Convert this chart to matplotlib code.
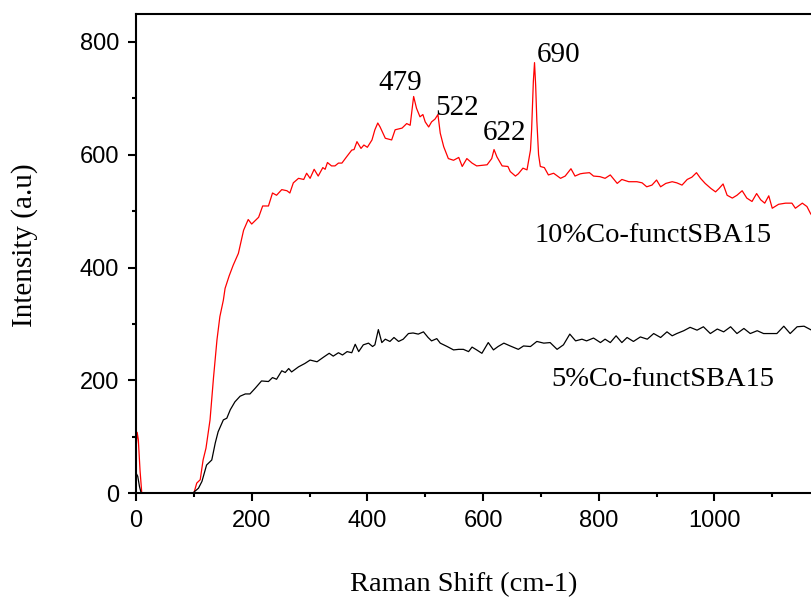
import numpy as np
import matplotlib
matplotlib.use("Agg")
import matplotlib.pyplot as plt
from matplotlib.ticker import MultipleLocator

# Raman spectra (shift in cm-1, intensity in a.u.)
co10_shift = [0, 2, 4, 7, 10, 20, 40, 60, 80, 100, 105, 111, 116, 121, 128, 134,
              140, 145, 151, 154, 161, 168, 177, 186, 194, 200, 212, 219, 229, 236,
              243, 252, 261, 266, 272, 281, 290, 295, 301, 308, 315, 323, 327, 331,
              338, 344, 350, 356, 364, 373, 377, 382, 389, 394, 400, 408, 413, 418,
              422, 431, 442, 448, 460, 468, 474, 480, 485, 491, 496, 500, 506, 511,
              517, 522, 526, 532, 540, 549, 558, 564, 572, 581, 589, 607, 615, 619,
              624, 633, 643, 647, 656, 661, 669, 676, 682, 684, 687, 689, 691, 693,
              696, 699, 706, 713, 722, 734, 742, 752, 759, 768, 774, 784, 791, 802,
              811, 820, 832, 840, 852, 866, 875, 883, 892, 900, 907, 916, 927, 935,
              944, 953, 961, 969, 976, 984, 994, 1002, 1008, 1015, 1022, 1031, 1039,
              1048, 1056, 1065, 1073, 1080, 1087, 1094, 1100, 1111, 1123, 1134, 1140,
              1152, 1160, 1166, 1170]
co10_int = [77, 108, 95, 40, 0, 0, 0, 0, 0, 0, 18, 24, 59, 80, 130, 205,
            272, 313, 342, 363, 385, 404, 425, 466, 485, 477, 489, 509, 509, 532,
            528, 538, 536, 532, 550, 558, 556, 567, 558, 574, 562, 577, 574, 586,
            580, 580, 585, 585, 596, 608, 609, 623, 611, 617, 613, 626, 644, 656,
            649, 629, 626, 644, 647, 655, 652, 703, 682, 667, 671, 658, 649, 658,
            663, 671, 638, 614, 593, 590, 595, 579, 593, 585, 580, 582, 593, 609,
            596, 580, 579, 570, 562, 566, 576, 573, 608, 645, 730, 763, 722, 660,
            600, 579, 577, 564, 567, 558, 562, 575, 562, 566, 567, 568, 562, 561,
            558, 564, 549, 556, 552, 552, 550, 543, 546, 555, 543, 549, 552, 550,
            546, 556, 560, 568, 558, 549, 540, 534, 540, 548, 528, 523, 528,
            536, 523, 517, 531, 520, 514, 527, 505, 512, 514, 514, 505,
            514, 508, 496, 490]

co5_shift = [0, 3, 6, 9, 20, 50, 80, 99, 108, 114, 122, 131, 137, 142, 151, 157,
             163, 171, 180, 189, 197, 206, 217, 229, 236, 243, 252, 258, 264, 269,
             281, 292, 301, 313, 324, 334, 341, 350, 357, 365, 373, 379, 385, 393,
             402, 409, 413, 419, 425, 431, 439, 446, 454, 462, 471, 479, 488, 497,
             505, 511, 520, 526, 538, 549, 558, 566, 575, 581, 589, 598, 609, 618,
             626, 636, 647, 661, 670, 682, 693, 705, 716, 728, 739, 750, 760, 771,
             779, 791, 803, 811, 820, 830, 840, 849, 860, 872, 884, 895, 907, 918,
             927, 935, 947, 958, 970, 981, 993, 1005, 1016, 1028, 1039, 1051, 1062,
             1074, 1085, 1097, 1108, 1120, 1131, 1143, 1155, 1168]
co5_int = [36, 30, 12, 0, 0, 0, 0, 1, 9, 21, 50, 59, 89, 109, 130, 133,
           148, 162, 172, 176, 176, 186, 199, 198, 205, 202, 217, 214, 221, 215,
           224, 230, 236, 233, 241, 248, 243, 249, 245, 251, 249, 264, 251, 263,
           266, 260, 263, 290, 267, 273, 269, 276, 269, 273, 283, 284, 282, 286,
           276, 270, 274, 266, 260, 254, 255, 255, 251, 259, 254, 248, 267, 254,
           260, 266, 261, 255, 261, 260, 269, 266, 267, 255, 263, 282, 270, 273,
           270, 275, 267, 273, 267, 279, 267, 276, 269, 277, 273, 283, 276, 286,
           279, 283, 288, 294, 289, 295, 283, 291, 286, 295, 283, 292, 283,
           288, 283, 283, 283, 296, 283, 295, 296, 289]

peak_labels = ["479", "522", "622", "690"]
peak_label_pos = [(419, 714), (517, 670), (600, 626), (692, 764)]

serif = ["Liberation Serif", "DejaVu Serif"]
sans = ["Liberation Sans", "DejaVu Sans"]

fig = plt.figure(figsize=(8.11, 5.99), dpi=100)
ax = fig.add_axes([0.1677, 0.1765, 0.838, 0.800])

ax.plot(co10_shift, co10_int, color="red", linewidth=0.9)
ax.plot(co5_shift, co5_int, color="black", linewidth=0.9)

for txt, (px, py) in zip(peak_labels, peak_label_pos):
    ax.text(px, py, txt, fontsize=21, family=serif, ha="left", va="baseline")

ax.text(689, 446, "10%Co-functSBA15", fontsize=20.5, family=serif,
        ha="left", va="baseline")
ax.text(718, 190, "5%Co-functSBA15", fontsize=20.5, family=serif,
        ha="left", va="baseline")

ax.set_xlim(0, 1175)
ax.set_ylim(0, 849)
ax.xaxis.set_major_locator(MultipleLocator(200))
ax.xaxis.set_minor_locator(MultipleLocator(100))
ax.yaxis.set_major_locator(MultipleLocator(200))
ax.yaxis.set_minor_locator(MultipleLocator(100))

ax.tick_params(which="major", direction="out", length=6, width=1.5,
               labelsize=17, pad=6)
ax.tick_params(which="minor", direction="out", length=3, width=1.5)
for lab in ax.get_xticklabels() + ax.get_yticklabels():
    lab.set_family(sans)
for sp in ax.spines.values():
    sp.set_linewidth(1.5)

ax.set_xlabel("Raman Shift (cm-1)", fontsize=20.5, family=serif)
ax.set_ylabel("Intensity (a.u)", fontsize=21, family=serif)
ax.xaxis.set_label_coords(0.482, -0.164)
ax.yaxis.set_label_coords(-0.144, 0.518)

fig.savefig("out.png", dpi=100)
